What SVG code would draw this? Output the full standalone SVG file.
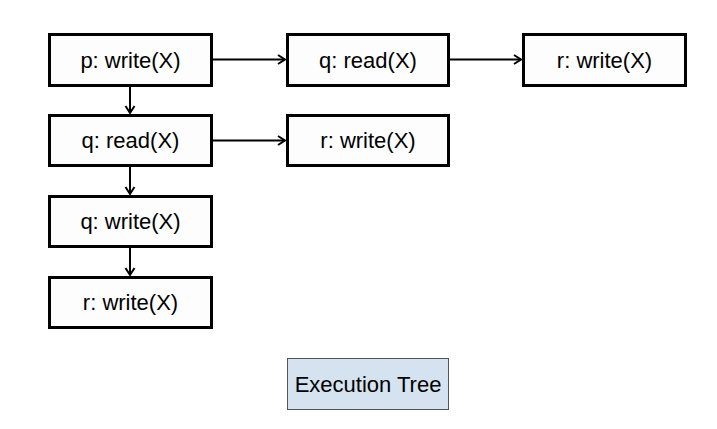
<svg xmlns="http://www.w3.org/2000/svg" width="717" height="429" viewBox="0 0 717 429">
<style>
.n{fill:#fdfdfd;stroke:#000;stroke-width:3}
.t{font-family:"Liberation Sans",Arial,sans-serif;font-size:22px;fill:#000;text-anchor:middle;dominant-baseline:central}
.c{stroke:#000;stroke-width:2;fill:none;marker-end:url(#a)}
</style>
<defs>
<marker id="a" markerWidth="12" markerHeight="12" refX="9" refY="6" orient="auto" markerUnits="userSpaceOnUse">
<path d="M2,1.5 L9,6 L2,10.5" fill="none" stroke="#000" stroke-width="2"/>
</marker>
</defs>
<rect width="717" height="429" fill="#fff"/>
<g id="connectors">
<line class="c" x1="211" y1="59.5" x2="285" y2="59.5"/>
<line class="c" x1="448" y1="59.5" x2="521" y2="59.5"/>
<line class="c" x1="211" y1="140.5" x2="285" y2="140.5"/>
<line class="c" x1="130" y1="85" x2="130" y2="113"/>
<line class="c" x1="130" y1="166" x2="130" y2="194"/>
<line class="c" x1="130" y1="247" x2="130" y2="275"/>
</g>
<g id="n1"><rect class="n" x="49.5" y="34.5" width="162" height="51"/><text class="t" x="130.5" y="60">p: write(X)</text></g>
<g id="n2"><rect class="n" x="287.5" y="34.5" width="161" height="51"/><text class="t" x="368" y="60">q: read(X)</text></g>
<g id="n3"><rect class="n" x="523.5" y="34.5" width="162" height="51"/><text class="t" x="604.5" y="60">r: write(X)</text></g>
<g id="n4"><rect class="n" x="49.5" y="115.5" width="162" height="50"/><text class="t" x="130.5" y="140.5">q: read(X)</text></g>
<g id="n5"><rect class="n" x="287.5" y="115.5" width="161" height="50"/><text class="t" x="368" y="140.5">r: write(X)</text></g>
<g id="n6"><rect class="n" x="49.5" y="196.5" width="162" height="50"/><text class="t" x="130.5" y="221.5">q: write(X)</text></g>
<g id="n7"><rect class="n" x="49.5" y="277.5" width="162" height="50"/><text class="t" x="130.5" y="302.5">r: write(X)</text></g>
<g id="legend"><rect x="287.5" y="358.5" width="161" height="51" fill="#d4e3ef" stroke="#555" stroke-width="1"/><text class="t" x="368" y="384">Execution Tree</text></g>
</svg>
